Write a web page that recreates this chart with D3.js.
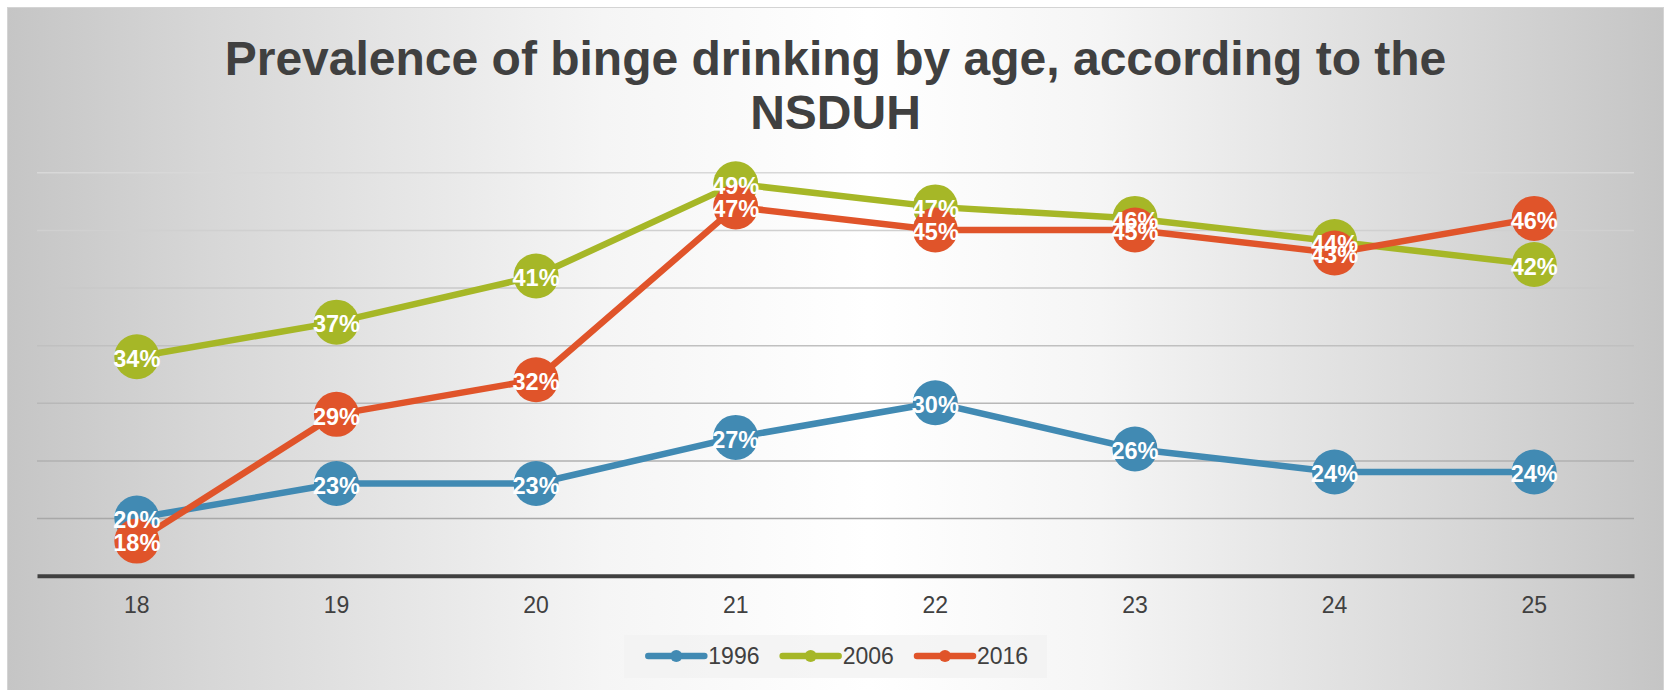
<!DOCTYPE html>
<html>
<head>
<meta charset="utf-8">
<script src="https://cdn.jsdelivr.net/npm/d3@7"></script>
<style>
  html, body { margin: 0; padding: 0; background: #ffffff; }
  svg { display: block; }
</style>
</head>
<body>
<svg id="chart" width="1667" height="690"></svg>
<script>
// ---- Data ----
const ages = ["18", "19", "20", "21", "22", "23", "24", "25"];
const values1996 = [20, 23, 23, 27, 30, 26, 24, 24];
const values2006 = [34, 37, 41, 49, 47, 46, 44, 42];
const values2016 = [18, 29, 32, 47, 45, 45, 43, 46];
const seriesNames = ["1996", "2006", "2016"];
const seriesColors = ["#418ab3", "#a6b727", "#e0542a"];
const gridTicks = [20, 25, 30, 35, 40, 45, 50];
const titleLines = ["Prevalence of binge drinking by age, according to the", "NSDUH"];

const series = [
  { name: seriesNames[0], values: values1996, color: seriesColors[0] },
  { name: seriesNames[1], values: values2006, color: seriesColors[1] },
  { name: seriesNames[2], values: values2016, color: seriesColors[2] }
];

const W = 1667, H = 690;
const svg = d3.select("#chart");
const FONT = "'Liberation Sans', Arial, Helvetica, sans-serif";

// ---- Background ----
const defs = svg.append("defs");
const bg = defs.append("linearGradient")
  .attr("id", "bgGrad")
  .attr("gradientUnits", "userSpaceOnUse")
  .attr("x1", 7).attr("y1", 0).attr("x2", 1664).attr("y2", 0);
[[0, "#c5c5c5"], [0.116, "#d6d6d6"], [0.36, "#f5f5f5"], [0.52, "#ffffff"],
 [0.66, "#f5f5f5"], [0.884, "#d6d6d6"], [1, "#c5c5c5"]].forEach(([o, c]) => {
  bg.append("stop").attr("offset", o).attr("stop-color", c);
});

svg.append("rect")
  .attr("x", 7.5).attr("y", 7.5)
  .attr("width", 1656).attr("height", 700)
  .attr("fill", "url(#bgGrad)")
  .attr("stroke", "#d4d4d4")
  .attr("stroke-width", 1);

// ---- Scales ----
const plotLeft = 37, plotRight = 1634;
const x = d3.scaleBand().domain(ages).range([plotLeft, plotRight]);
const y = d3.scaleLinear().domain([15, 50]).range([575.7, 172.3]);
const cx = d => x(d) + x.bandwidth() / 2;

// ---- Title ----
svg.append("g").selectAll("text")
  .data(titleLines)
  .join("text")
  .attr("x", 835.5)
  .attr("y", (d, i) => 74.5 + i * 54.5)
  .attr("text-anchor", "middle")
  .attr("font-family", FONT)
  .attr("font-weight", "bold")
  .attr("font-size", 48)
  .attr("fill", "#404040")
  .text(d => d);

// ---- Gridlines ----
const gridColor = d3.scaleLinear().domain([50, 20]).range(["#d8d8d8", "#a8a8a8"]);
const grid = svg.append("g")
  .attr("transform", `translate(${plotLeft},0)`)
  .call(d3.axisLeft(y).tickValues(gridTicks).tickSize(-(plotRight - plotLeft)).tickFormat(""));
grid.select(".domain").remove();
grid.selectAll(".tick line")
  .attr("stroke", d => gridColor(d))
  .attr("stroke-width", 1.4);

// ---- X axis ----
const xAxis = svg.append("g")
  .attr("transform", `translate(0,${y(15)})`)
  .call(d3.axisBottom(x).tickSize(0).tickSizeOuter(0).tickPadding(0));
xAxis.select(".domain")
  .attr("stroke", "#404040")
  .attr("stroke-width", 4);
xAxis.selectAll(".tick text")
  .attr("font-family", FONT)
  .attr("font-size", 23)
  .attr("fill", "#404040")
  .attr("dy", null)
  .attr("y", 613.3 - y(15));

// ---- Series ----
const line = d3.line()
  .x((v, i) => cx(ages[i]))
  .y(v => y(v));

const seriesG = svg.append("g").selectAll("g")
  .data(series)
  .join("g");

seriesG.append("path")
  .attr("d", s => line(s.values))
  .attr("fill", "none")
  .attr("stroke", s => s.color)
  .attr("stroke-width", 6.5)
  .attr("stroke-linejoin", "round");

seriesG.selectAll("circle")
  .data(s => s.values.map((v, i) => ({ v, age: ages[i], color: s.color })))
  .join("circle")
  .attr("cx", d => cx(d.age))
  .attr("cy", d => y(d.v))
  .attr("r", 22.5)
  .attr("fill", d => d.color);

// ---- Data labels ----
const labelsG = svg.append("g");
series.forEach(s => {
  labelsG.selectAll(null)
    .data(s.values.map((v, i) => ({ v, age: ages[i] })))
    .join("text")
    .attr("x", d => cx(d.age))
    .attr("y", d => y(d.v) + 10.3)
    .attr("text-anchor", "middle")
    .attr("font-family", FONT)
    .attr("font-weight", "bold")
    .attr("font-size", 23.5)
    .attr("fill", "#ffffff")
    .text(d => d.v + "%");
});

// ---- Legend ----
const legend = svg.append("g");
legend.append("rect")
  .attr("x", 624).attr("y", 635)
  .attr("width", 423).attr("height", 43)
  .attr("fill", "#f2f2f2")
  .attr("opacity", 0.75);

const legendX = d3.scalePoint().domain(seriesNames).range([648.3, 917]);
const item = legend.selectAll("g.item")
  .data(series)
  .join("g")
  .attr("class", "item")
  .attr("transform", s => `translate(${legendX(s.name)},656)`);
item.append("line")
  .attr("x1", 0).attr("x2", 56)
  .attr("y1", 0).attr("y2", 0)
  .attr("stroke", s => s.color)
  .attr("stroke-width", 6.5)
  .attr("stroke-linecap", "round");
item.append("circle")
  .attr("cx", 28).attr("cy", 0).attr("r", 6)
  .attr("fill", s => s.color);
item.append("text")
  .attr("x", 60)
  .attr("y", 8.3)
  .attr("font-family", FONT)
  .attr("font-size", 23)
  .attr("fill", "#404040")
  .text(s => s.name);
</script>
</body>
</html>
